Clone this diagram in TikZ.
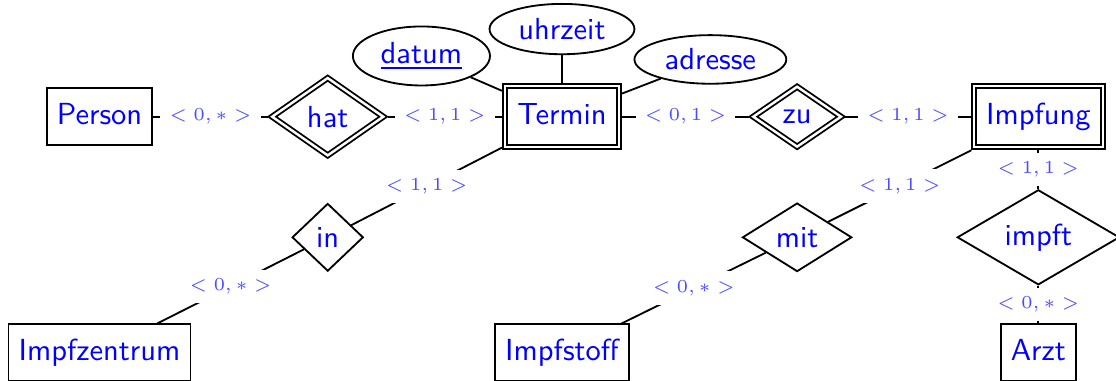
\documentclass[tikz,border=0pt]{standalone}
\usepackage{tikz}
\usetikzlibrary{shapes.geometric,positioning}

\tikzset{
  entity/.style={
    draw,
    semithick,
    rectangle,
    text=blue,
    font=\sffamily,
    inner sep=3.3pt,
    text height=8.5pt,
    text depth=3.5pt
  },
  weak/.style={
    entity,
    inner sep=4pt,
    double,
    double distance=0.8pt,
    outer sep=1pt
  },
  relation/.style={
    draw,
    semithick,
    diamond,
    text=blue,
    font=\sffamily,
    inner sep=0pt
  },
  weakrel/.style={
    relation,
    double,
    double distance=0.8pt,
    outer sep=1pt
  },
  attrib/.style={
    draw,
    semithick,
    ellipse,
    text=blue,
    font=\sffamily,
    inner sep=1pt
  },
  card/.style={
    fill=white,
    inner sep=3pt,
    text=blue!70,
    font=\fontsize{6}{7}\selectfont
  }
}

\begin{document}
\begin{tikzpicture}[semithick]
\useasboundingbox (-6.477,-3.035) rectangle (6.385,1.345);
\clip (-6.477,-3.035) rectangle (6.385,1.345);

% top row
\node[weak] (termin) at (0,0) {Termin};
\node[entity] (person) at (-5.33,0) {Person};
\node[weakrel, minimum width=1.31cm, minimum height=0.92cm] (hat) at (-2.70,0) {hat};
\node[weakrel, minimum width=1.04cm, minimum height=0.72cm] (zu) at (2.71,0) {zu};
\node[weak] (impfung) at (5.49,0) {Impfung};

% attributes of Termin
\node[attrib, minimum width=1.58cm, minimum height=0.68cm] (datum) at (-1.62,0.70) {\underline{datum}};
\node[attrib, minimum width=1.67cm, minimum height=0.58cm] (uhrzeit) at (0,1.01) {uhrzeit};
\node[attrib, minimum width=1.75cm, minimum height=0.56cm] (adresse) at (1.71,0.66) {adresse};

% lower rows
\coordinate (row2) at (0,-1.39);
\coordinate (row3) at (0,-2.72);
\node[relation, minimum width=0.82cm, minimum height=0.78cm] (in) at (hat |- row2) {in};
\node[relation, minimum width=1.26cm, minimum height=0.79cm] (mit) at (zu |- row2) {mit};
\node[relation, minimum width=1.87cm, minimum height=0.93cm] (impft) at (impfung |- row2) {impft};
\node[entity] (zentrum) at (person |- row3) {Impfzentrum};
\node[entity] (impfstoff) at (termin |- row3) {Impfstoff};
\node[entity] (arzt) at (impfung |- row3) {Arzt};

\draw (datum) -- (termin);
\draw (uhrzeit) -- (termin);
\draw (adresse) -- (termin);

\draw (person) -- node[card] {$<0,*>$} (hat);
\draw (hat) -- node[card] {$<1,1>$} (termin);
\draw (termin) -- node[card] {$<0,1>$} (zu);
\draw (zu) -- node[card] {$<1,1>$} (impfung);
\draw (termin) -- node[card] {$<1,1>$} (in);
\draw (in) -- node[card] {$<0,*>$} (zentrum);
\draw (impfung) -- node[card] {$<1,1>$} (mit);
\draw (mit) -- node[card] {$<0,*>$} (impfstoff);
\draw (impfung) -- node[card] {$<1,1>$} (impft);
\draw (impft) -- node[card] {$<0,*>$} (arzt);

\end{tikzpicture}
\end{document}
